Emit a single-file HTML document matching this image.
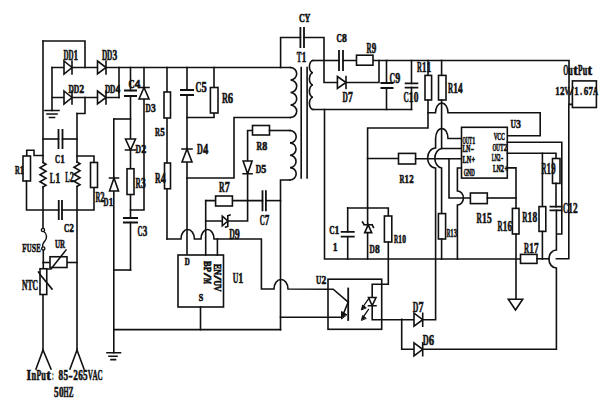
<!DOCTYPE html>
<html><head><meta charset="utf-8"><style>
html,body{margin:0;padding:0;background:#fff;}
svg{display:block;}
</style></head><body>
<svg width="600" height="400" viewBox="0 0 600 400">
<rect width="600" height="400" fill="#fff"/>
<style>text{font-family:"Liberation Serif",serif;font-weight:bold;fill:#111;stroke:#111;stroke-width:0.6px;}</style><g stroke="#111" stroke-linecap="square" stroke-linejoin="miter" fill="none">
<path d="M85,67.5 L85,41 L43,41" stroke-width="1.6" fill="none"/>
<path d="M43,294.5 L43,350" stroke-width="1.6" fill="none"/>
<path d="M36,369 L43,350 L51,369" stroke-width="1.6" fill="none"/>
<path d="M77,113.5 L77,162" stroke-width="1.6" fill="none"/>
<path d="M77,186.5 L77,350" stroke-width="1.6" fill="none"/>
<path d="M70,369 L77,350 L84,369" stroke-width="1.6" fill="none"/>
<path d="M85,97.5 L85,113.5 L77,113.5" stroke-width="1.6" fill="none"/>
<path d="M52,67.5 L290.5,67.5" stroke-width="1.6" fill="none"/>
<path d="M52,97.5 L119,97.5" stroke-width="1.6" fill="none"/>
<path d="M119,67.5 L119,97.5" stroke-width="1.6" fill="none"/>
<path d="M52,67.5 L52,110.5" stroke-width="1.6" fill="none"/>
<path d="M45,110.5 H59 M47,114 H57 M49.5,117.5 H54.5" stroke-width="1.6" fill="none"/>
<path d="M64,61.0 L72,67.5 L64,74.0 Z M72,61.0 V74.0" stroke-width="1.6" fill="#fff"/>
<path d="M97.5,61.0 L106,67.5 L97.5,74.0 Z M106,61.0 V74.0" stroke-width="1.6" fill="#fff"/>
<path d="M64,91.0 L72,97.5 L64,104.0 Z M72,91.0 V104.0" stroke-width="1.6" fill="#fff"/>
<path d="M97.5,91.0 L106,97.5 L97.5,104.0 Z M106,91.0 V104.0" stroke-width="1.6" fill="#fff"/>
<path d="M43,139 L58.5,139" stroke-width="1.6" fill="none"/>
<path d="M62.5,139 L77,139" stroke-width="1.6" fill="none"/>
<path d="M58.5,129 V149 M62.5,129 V149" stroke-width="1.8" fill="none" stroke-linecap="butt"/>
<path d="M43,155.5 L34,155.5 L34,150.2 L26.75,150.2 L26.75,156" stroke-width="1.6" fill="none"/>
<rect x="23" y="156" width="7.50" height="25.00" stroke-width="1.6" fill="#fff"/>
<path d="M26.5,181 L26.5,210 L58.75,210" stroke-width="1.6" fill="none"/>
<path d="M62,210 L94,210 L94,187.5" stroke-width="1.6" fill="none"/>
<path d="M58.75,200 V220 M62,200 V220" stroke-width="1.8" fill="none" stroke-linecap="butt"/>
<path d="M77,156 L94,156 L94,162.5" stroke-width="1.6" fill="none"/>
<rect x="90.5" y="162.5" width="7.00" height="25.00" stroke-width="1.6" fill="#fff"/>
<path d="M43,162.5 L46,164.25 L40,167.75 L46,171.25 L40,174.75 L46,178.25 L40,181.75 L46,185.25 L43,187" stroke-width="1.6" fill="none"/>
<path d="M77,162 L80,163.75 L74,167.25 L80,170.75 L74,174.25 L80,177.75 L74,181.25 L80,184.75 L77,186.5" stroke-width="1.6" fill="none"/>
<path d="M43,41 V162.5 M43,187 V228.3" stroke-width="1.6" fill="none"/>
<path d="M41.4,230 a1.6,1.6 0 1 0 3.2,0 a1.6,1.6 0 1 0 -3.2,0 M43.8,231.5 C47.5,234 47,238.5 44.8,241 C43.2,243 42.2,245 42.8,246.8 M41.7,248.5 a1.6,1.6 0 1 0 3.2,0 a1.6,1.6 0 1 0 -3.2,0" stroke-width="1.4" fill="none"/>
<path d="M43.3,250.2 L43.3,268.75" stroke-width="1.6" fill="none"/>
<path d="M43,262.5 L50,262.5" stroke-width="1.6" fill="none"/>
<path d="M67,262.5 L77,262.5" stroke-width="1.6" fill="none"/>
<rect x="50" y="256.75" width="17.00" height="10.75" stroke-width="1.6" fill="#fff"/>
<path d="M47,269 L51,269 L66,250" stroke-width="1.6" fill="none"/>
<rect x="40" y="268.75" width="6.75" height="25.75" stroke-width="1.6" fill="#fff"/>
<path d="M38.5,272 L40.5,275 L52,289" stroke-width="1.6" fill="none"/>
<path d="M113.8,119 L113.8,352.8" stroke-width="1.6" fill="none"/>
<path d="M113.8,119 L130.5,119" stroke-width="1.6" fill="none"/>
<path d="M107,352.8 H120.5 M109,356.3 H117 M111,359.6 H115.5" stroke-width="1.6" fill="none"/>
<path d="M109.5,191 L114,178 L118.5,191 Z M109.5,178 H118.5" stroke-width="1.6" fill="#fff"/>
<path d="M114,329.6 L280.5,329.6" stroke-width="1.6" fill="none"/>
<path d="M114,270 L130.5,270" stroke-width="1.6" fill="none"/>
<path d="M130.5,67.5 L130.5,90.5" stroke-width="1.6" fill="none"/>
<path d="M124.0,90.5 H137.0 M124.0,96 H137.0" stroke-width="1.8" fill="none" stroke-linecap="butt"/>
<path d="M130.5,96 L130.5,218" stroke-width="1.6" fill="none"/>
<path d="M130.5,222.5 L130.5,270" stroke-width="1.6" fill="none"/>
<path d="M125.5,139 L130.5,150 L135.5,139 Z M125.5,150 H135.5" stroke-width="1.6" fill="#fff"/>
<rect x="127" y="168.75" width="7.00" height="25.75" stroke-width="1.6" fill="#fff"/>
<path d="M123.0,218 H138.0 M123.0,222.5 H138.0" stroke-width="1.8" fill="none" stroke-linecap="butt"/>
<path d="M144,67.5 L144,210 L130.5,210" stroke-width="1.6" fill="none"/>
<path d="M139,99 L144,87.5 L149,99 Z M139,87.5 H149" stroke-width="1.6" fill="#fff"/>
<path d="M167,67.5 L167,239" stroke-width="1.6" fill="none"/>
<rect x="164" y="92" width="6.50" height="26.00" stroke-width="1.6" fill="#fff"/>
<rect x="164.5" y="163" width="6.00" height="25.75" stroke-width="1.6" fill="#fff"/>
<path d="M187,67.5 L187,90" stroke-width="1.6" fill="none"/>
<path d="M187,95 L187,255" stroke-width="1.6" fill="none"/>
<path d="M180,90 H194 M180,95 H194" stroke-width="1.8" fill="none" stroke-linecap="butt"/>
<path d="M182,162 L187,149 L192,162 Z M182,149 H192" stroke-width="1.6" fill="#fff"/>
<path d="M187,117.5 L214,117.5 L214,67.5" stroke-width="1.6" fill="none"/>
<rect x="210.4" y="87.5" width="7.60" height="25.50" stroke-width="1.6" fill="#fff"/>
<path d="M187,178 L234,178 L234,117.5 L290.5,117.5" stroke-width="1.6" fill="none"/>
<path d="M167,239 L181,239 A6.700000000000003,9.5 0 0 1 194.4,239 L201,239 A6.5,9.5 0 0 1 214,239 L261.4,239 L261.4,289 L274,289 A7.0,9.5 0 0 1 288,289 L329,289.2" stroke-width="1.6" fill="none"/>
<rect x="178" y="255" width="45.50" height="52.00" stroke-width="1.6" fill="#fff"/>
<path d="M205.7,200.6 L205.7,255" stroke-width="1.6" fill="none"/>
<path d="M217.4,239 L217.4,255" stroke-width="1.6" fill="none"/>
<path d="M200.5,307 L200.5,329.6" stroke-width="1.6" fill="none"/>
<path d="M205.7,200.6 L262.5,200.6" stroke-width="1.6" fill="none"/>
<path d="M265.9,200.6 L280.5,200.6" stroke-width="1.6" fill="none"/>
<rect x="215.6" y="196" width="16.80" height="10.00" stroke-width="1.6" fill="#fff"/>
<path d="M262.5,190.3 V211.3 M265.9,190.3 V211.3" stroke-width="1.8" fill="none" stroke-linecap="butt"/>
<path d="M205.7,221 L247.6,221 L247.6,130.5 L252.5,130.5" stroke-width="1.6" fill="none"/>
<path d="M222.3,216.2 L227.8,221 L222.3,225.8 Z M227.8,215.8 V226.2 M227.8,215.8 L230,215 M227.8,226.2 L225.6,227.2" stroke-width="1.6" fill="#fff"/>
<path d="M243.1,161 L247.6,173.75 L252.1,161 Z M243.1,173.75 H252.1" stroke-width="1.6" fill="#fff"/>
<rect x="252.5" y="125.5" width="17.00" height="9.50" stroke-width="1.6" fill="#fff"/>
<path d="M269.5,130.5 L290,130.5" stroke-width="1.6" fill="none"/>
<path d="M290.5,67.5 A6.2,6.25 0 0 1 290.5,80.00 A6.2,6.25 0 0 1 290.5,92.50 A6.2,6.25 0 0 1 290.5,105.00 A6.2,6.25 0 0 1 290.5,117.50" stroke-width="1.6" fill="none"/>
<path d="M290,130.5 A6.2,6.1875 0 0 1 290,142.88 A6.2,6.1875 0 0 1 290,155.25 A6.2,6.1875 0 0 1 290,167.62 A6.2,6.1875 0 0 1 290,180.00" stroke-width="1.6" fill="none"/>
<path d="M290,180 L280.5,180 L280.5,329.6" stroke-width="1.6" fill="none"/>
<path d="M301.2,67.5 V178 M307.1,67.5 V178" stroke-width="1.6" fill="none"/>
<path d="M280.6,67.5 L280.6,37.5 L300.4,37.5" stroke-width="1.6" fill="none"/>
<path d="M304,37.5 L324,37.5 L324,82.5 L379,82.5 L379,60.5" stroke-width="1.6" fill="none"/>
<path d="M300.4,27.0 V48.0 M304,27.0 V48.0" stroke-width="1.8" fill="none" stroke-linecap="butt"/>
<path d="M337.4,76.5 L346,82.5 L337.4,88.5 Z M346,76.5 V88.5" stroke-width="1.6" fill="#fff"/>
<path d="M313,60.5 A3.6,6.125 0 0 0 313,72.75 A3.6,6.125 0 0 0 313,85.00 A3.6,6.125 0 0 0 313,97.25 A3.6,6.125 0 0 0 313,109.50" stroke-width="1.6" fill="none"/>
<path d="M313,60.5 L339,60.5" stroke-width="1.6" fill="none"/>
<path d="M343,60.5 L569,60.5 L569,104.4 L572.4,104.4" stroke-width="1.6" fill="none"/>
<path d="M339,50.0 V71.0 M343,50.0 V71.0" stroke-width="1.8" fill="none" stroke-linecap="butt"/>
<rect x="356.5" y="55.2" width="16.50" height="10.00" stroke-width="1.6" fill="#fff"/>
<path d="M313,109.5 L411.5,109.5" stroke-width="1.6" fill="none"/>
<path d="M324.5,109.5 L324.5,259 L520.5,259" stroke-width="1.6" fill="none"/>
<path d="M386.5,60.5 L386.5,83" stroke-width="1.6" fill="none"/>
<path d="M386.5,88 L386.5,109.5" stroke-width="1.6" fill="none"/>
<path d="M380.5,83 H393.5 M380.5,88 H393.5" stroke-width="1.8" fill="none" stroke-linecap="butt"/>
<path d="M411.5,60.5 L411.5,83.5" stroke-width="1.6" fill="none"/>
<path d="M411.5,87.4 L411.5,109.5" stroke-width="1.6" fill="none"/>
<path d="M404.7,83.4 H418.3 M404.7,87.6 H418.3" stroke-width="1.8" fill="none" stroke-linecap="butt"/>
<path d="M428,60.5 L428,75.4" stroke-width="1.6" fill="none"/>
<rect x="425" y="75.4" width="6.60" height="24.60" stroke-width="1.6" fill="#fff"/>
<path d="M428,100 L428,128 L367.6,128 L367.6,259" stroke-width="1.6" fill="none"/>
<path d="M441.6,60.5 L441.6,75.4" stroke-width="1.6" fill="none"/>
<rect x="438.5" y="75.4" width="7.50" height="24.60" stroke-width="1.6" fill="#fff"/>
<path d="M441.6,100 L441.6,148.5 L461.5,148.5" stroke-width="1.6" fill="none"/>
<path d="M428,112.8 L435.5,112.8 A6.25,9.799999999999997 0 0 1 448,112.8 L540.2,112.8 L540.2,135.8 L507.3,135.8" stroke-width="1.6" fill="none"/>
<path d="M461.5,138.5 L448,138.5 A6.2,10 0 0 0 435.6,138.5 L435.6,148 A8,10 0 0 0 435.6,168 L435.6,319.7 L422.7,319.7" stroke-width="1.6" fill="none"/>
<path d="M441.6,148.5 A7.5,9.8 0 0 0 441.6,168 L441.6,213.6" stroke-width="1.6" fill="none"/>
<rect x="438.4" y="213.6" width="7.20" height="25.40" stroke-width="1.6" fill="#fff"/>
<path d="M441.6,239 L441.6,259" stroke-width="1.6" fill="none"/>
<path d="M367.6,158.5 L398.5,158.5" stroke-width="1.6" fill="none"/>
<rect x="398.5" y="153.4" width="17.10" height="10.60" stroke-width="1.6" fill="#fff"/>
<path d="M415.6,158.7 L461.5,158.7" stroke-width="1.6" fill="none"/>
<path d="M449,158.7 L449,198 L470.4,198" stroke-width="1.6" fill="none"/>
<rect x="470.4" y="193" width="16.90" height="10.60" stroke-width="1.6" fill="#fff"/>
<path d="M487.3,198 L516,198" stroke-width="1.6" fill="none"/>
<path d="M461.5,168 L457.4,168 L457.4,191 A6,7 0 0 1 457.4,205 L457.4,259" stroke-width="1.6" fill="none"/>
<rect x="461.5" y="127.3" width="45.80" height="50.80" stroke-width="1.6" fill="#fff"/>
<path d="M507.3,167.9 L516,167.9 L516,208.4" stroke-width="1.6" fill="none"/>
<rect x="512.4" y="208.4" width="6.60" height="25.60" stroke-width="1.6" fill="#fff"/>
<path d="M516,234 L516,299.3" stroke-width="1.6" fill="none"/>
<path d="M508.3,299.3 H522.7 L515.5,310 Z" stroke-width="1.6" fill="none"/>
<path d="M507.3,153.3 L556,153.3 L556,158.5" stroke-width="1.6" fill="none"/>
<rect x="552.5" y="158.5" width="7.50" height="24.90" stroke-width="1.6" fill="#fff"/>
<path d="M556,183.4 L556,206.6" stroke-width="1.6" fill="none"/>
<path d="M549.5,206.6 H562.5 M549.5,210.4 H562.5" stroke-width="1.8" fill="none" stroke-linecap="butt"/>
<path d="M542.4,153.3 L542.4,206.6" stroke-width="1.6" fill="none"/>
<rect x="539" y="206.6" width="6.80" height="24.80" stroke-width="1.6" fill="#fff"/>
<path d="M542.4,231.4 L542.4,259" stroke-width="1.6" fill="none"/>
<path d="M507.3,142.3 L561.8,142.3 L561.8,234 L556.4,234 L556.4,210.4 M556.4,234 L556.4,250 A7.5,9 0 0 0 556.4,268 L556.4,349.3 L401.7,349.3 L401.7,319.4" stroke-width="1.6" fill="none"/>
<rect x="520.5" y="254.4" width="16.50" height="9.00" stroke-width="1.6" fill="#fff"/>
<path d="M537,258.8 L549,258.8" stroke-width="1.6" fill="none"/>
<path d="M556.4,258.8 L568.8,258.8 L568.8,104.4" stroke-width="1.6" fill="none"/>
<rect x="572.4" y="80.9" width="24.00" height="26.60" stroke-width="1.6" fill="#fff"/>
<path d="M347.7,208 L388.3,208 L388.3,216" stroke-width="1.6" fill="none"/>
<rect x="384.4" y="216" width="7.40" height="26.00" stroke-width="1.6" fill="#fff"/>
<path d="M347.7,208 L347.7,231.8" stroke-width="1.6" fill="none"/>
<path d="M347.7,236.7 L347.7,259" stroke-width="1.6" fill="none"/>
<path d="M340.7,231.8 H354.7 M340.7,236.7 H354.7" stroke-width="1.8" fill="none" stroke-linecap="butt"/>
<path d="M364.7,232.6 L368.2,224.8 L371.7,232.6 Z M364.2,224.8 H372.2 M364.2,224.8 L362.5,222 M372.2,224.8 L373.5,227.5" stroke-width="1.6" fill="#fff"/>
<rect x="328" y="279.2" width="53.70" height="50.10" stroke-width="1.6" fill="#fff"/>
<path d="M329,289.2 L333.2,289.2 L348.2,302" stroke-width="1.6" fill="none"/>
<path d="M348.2,288.5 V320" stroke-width="1.8" fill="none"/>
<path d="M348.2,302 L342.5,316" stroke-width="1.6" fill="none"/>
<path d="M341.5,318.5 L341.5,311.5 L346.5,314.5 Z" stroke-width="1" fill="#111"/>
<path d="M280.5,317.3 L341,317.3" stroke-width="1.6" fill="none"/>
<path d="M388.3,242 L388.3,284.3 L372.2,284.3 L372.2,319.7 L414,319.7" stroke-width="1.6" fill="none"/>
<path d="M368.5,297.5 H376 L372.2,305.7 Z M368.5,305.7 H376" stroke-width="1.6" fill="#fff"/>
<path d="M368.5,299 L362.5,307.5 M368.5,309.5 L362.5,318" stroke-width="1.3" fill="none"/>
<path d="M361.5,309.5 l1.2,-4.5 l3.2,2.6 Z M361.5,320 l1.2,-4.5 l3.2,2.6 Z" stroke-width="1" fill="#111"/>
<path d="M414,313.2 L422.7,319.7 L414,326.2 Z M422.7,313.2 V326.2" stroke-width="1.6" fill="#fff"/>
<path d="M414,342.8 L422.7,349.3 L414,355.8 Z M422.7,342.8 V355.8" stroke-width="1.6" fill="#fff"/>
<text x="299.03" y="21.80" font-size="12.67" textLength="5.86" lengthAdjust="spacingAndGlyphs">C</text><text x="304.61" y="21.80" font-size="12.67" textLength="5.86" lengthAdjust="spacingAndGlyphs">Y</text>
<text x="336.57" y="42.20" font-size="11.76" textLength="5.36" lengthAdjust="spacingAndGlyphs">C</text><text x="341.94" y="42.20" font-size="11.76" textLength="4.83" lengthAdjust="spacingAndGlyphs">8</text>
<text x="366.59" y="52.50" font-size="13.74" textLength="5.03" lengthAdjust="spacingAndGlyphs">R</text><text x="371.63" y="52.50" font-size="13.74" textLength="4.52" lengthAdjust="spacingAndGlyphs">9</text>
<text x="296.78" y="62.20" font-size="14.66" textLength="4.64" lengthAdjust="spacingAndGlyphs">T</text><text x="301.63" y="62.20" font-size="14.66" textLength="4.52" lengthAdjust="spacingAndGlyphs">1</text>
<text x="63.59" y="60.00" font-size="13.74" textLength="5.10" lengthAdjust="spacingAndGlyphs">D</text><text x="68.45" y="60.00" font-size="13.74" textLength="5.10" lengthAdjust="spacingAndGlyphs">D</text><text x="73.56" y="60.00" font-size="13.74" textLength="4.59" lengthAdjust="spacingAndGlyphs">1</text>
<text x="102.07" y="60.00" font-size="13.74" textLength="5.29" lengthAdjust="spacingAndGlyphs">D</text><text x="107.11" y="60.00" font-size="13.74" textLength="5.29" lengthAdjust="spacingAndGlyphs">D</text><text x="112.41" y="60.00" font-size="13.74" textLength="4.76" lengthAdjust="spacingAndGlyphs">3</text>
<text x="68.56" y="92.50" font-size="12.98" textLength="5.47" lengthAdjust="spacingAndGlyphs">D</text><text x="73.77" y="92.50" font-size="12.98" textLength="5.47" lengthAdjust="spacingAndGlyphs">D</text><text x="79.25" y="92.50" font-size="12.98" textLength="4.92" lengthAdjust="spacingAndGlyphs">2</text>
<text x="105.07" y="92.50" font-size="12.98" textLength="5.29" lengthAdjust="spacingAndGlyphs">D</text><text x="110.11" y="92.50" font-size="12.98" textLength="5.29" lengthAdjust="spacingAndGlyphs">D</text><text x="115.41" y="92.50" font-size="12.98" textLength="4.76" lengthAdjust="spacingAndGlyphs">4</text>
<text x="128.50" y="88.00" font-size="12.98" textLength="6.14" lengthAdjust="spacingAndGlyphs">C</text><text x="134.66" y="88.00" font-size="12.98" textLength="5.53" lengthAdjust="spacingAndGlyphs">4</text>
<text x="145.57" y="112.00" font-size="12.98" textLength="5.31" lengthAdjust="spacingAndGlyphs">D</text><text x="150.89" y="112.00" font-size="12.98" textLength="4.78" lengthAdjust="spacingAndGlyphs">3</text>
<text x="195.53" y="92.00" font-size="13.74" textLength="5.86" lengthAdjust="spacingAndGlyphs">C</text><text x="201.40" y="92.00" font-size="13.74" textLength="5.28" lengthAdjust="spacingAndGlyphs">5</text>
<text x="221.92" y="102.50" font-size="15.27" textLength="5.92" lengthAdjust="spacingAndGlyphs">R</text><text x="227.86" y="102.50" font-size="15.27" textLength="5.33" lengthAdjust="spacingAndGlyphs">6</text>
<text x="342.57" y="102.00" font-size="13.74" textLength="5.36" lengthAdjust="spacingAndGlyphs">D</text><text x="347.94" y="102.00" font-size="13.74" textLength="4.83" lengthAdjust="spacingAndGlyphs">7</text>
<text x="389.55" y="82.50" font-size="13.74" textLength="5.59" lengthAdjust="spacingAndGlyphs">C</text><text x="395.15" y="82.50" font-size="13.74" textLength="5.03" lengthAdjust="spacingAndGlyphs">9</text>
<text x="403.57" y="102.40" font-size="15.11" textLength="5.25" lengthAdjust="spacingAndGlyphs">C</text><text x="408.84" y="102.40" font-size="15.11" textLength="4.72" lengthAdjust="spacingAndGlyphs">1</text><text x="413.84" y="102.40" font-size="15.11" textLength="4.72" lengthAdjust="spacingAndGlyphs">0</text>
<text x="417.10" y="72.40" font-size="15.11" textLength="4.92" lengthAdjust="spacingAndGlyphs">R</text><text x="422.04" y="72.40" font-size="15.11" textLength="4.43" lengthAdjust="spacingAndGlyphs">1</text><text x="426.72" y="72.40" font-size="15.11" textLength="4.43" lengthAdjust="spacingAndGlyphs">1</text>
<text x="447.98" y="92.50" font-size="13.74" textLength="5.14" lengthAdjust="spacingAndGlyphs">R</text><text x="453.14" y="92.50" font-size="13.74" textLength="4.63" lengthAdjust="spacingAndGlyphs">1</text><text x="458.03" y="92.50" font-size="13.74" textLength="4.63" lengthAdjust="spacingAndGlyphs">4</text>
<text x="563.29" y="74.80" font-size="13.59" textLength="5.05" lengthAdjust="spacingAndGlyphs">O</text><text x="568.36" y="74.80" font-size="13.59" textLength="4.55" lengthAdjust="spacingAndGlyphs">u</text><text x="573.17" y="74.80" font-size="13.59" textLength="4.55" lengthAdjust="spacingAndGlyphs">t</text><text x="577.98" y="74.80" font-size="13.59" textLength="4.55" lengthAdjust="spacingAndGlyphs">P</text><text x="582.80" y="74.80" font-size="13.59" textLength="4.55" lengthAdjust="spacingAndGlyphs">u</text><text x="587.61" y="74.80" font-size="13.59" textLength="4.55" lengthAdjust="spacingAndGlyphs">t</text>
<text x="555.15" y="95.30" font-size="13.44" textLength="4.50" lengthAdjust="spacingAndGlyphs">1</text><text x="559.91" y="95.30" font-size="13.44" textLength="4.50" lengthAdjust="spacingAndGlyphs">2</text><text x="564.42" y="95.30" font-size="13.44" textLength="5.00" lengthAdjust="spacingAndGlyphs">V</text><text x="569.81" y="95.30" font-size="13.44" textLength="3.75" lengthAdjust="spacingAndGlyphs">/</text><text x="574.20" y="95.30" font-size="13.44" textLength="4.50" lengthAdjust="spacingAndGlyphs">1</text><text x="580.35" y="95.30" font-size="13.44" textLength="1.73" lengthAdjust="spacingAndGlyphs">.</text><text x="583.73" y="95.30" font-size="13.44" textLength="4.50" lengthAdjust="spacingAndGlyphs">6</text><text x="588.49" y="95.30" font-size="13.44" textLength="4.50" lengthAdjust="spacingAndGlyphs">7</text><text x="593.00" y="95.30" font-size="13.44" textLength="5.00" lengthAdjust="spacingAndGlyphs">A</text>
<text x="510.56" y="128.00" font-size="12.98" textLength="5.47" lengthAdjust="spacingAndGlyphs">U</text><text x="516.04" y="128.00" font-size="12.98" textLength="4.93" lengthAdjust="spacingAndGlyphs">3</text>
<text x="155.09" y="135.50" font-size="12.21" textLength="5.03" lengthAdjust="spacingAndGlyphs">R</text><text x="160.13" y="135.50" font-size="12.21" textLength="4.52" lengthAdjust="spacingAndGlyphs">5</text>
<text x="135.55" y="152.50" font-size="12.98" textLength="5.59" lengthAdjust="spacingAndGlyphs">D</text><text x="141.15" y="152.50" font-size="12.98" textLength="5.03" lengthAdjust="spacingAndGlyphs">2</text>
<text x="197.03" y="153.50" font-size="14.50" textLength="5.86" lengthAdjust="spacingAndGlyphs">D</text><text x="202.90" y="153.50" font-size="14.50" textLength="5.28" lengthAdjust="spacingAndGlyphs">4</text>
<text x="256.55" y="149.50" font-size="12.67" textLength="5.59" lengthAdjust="spacingAndGlyphs">R</text><text x="262.15" y="149.50" font-size="12.67" textLength="5.03" lengthAdjust="spacingAndGlyphs">8</text>
<text x="255.75" y="172.50" font-size="13.44" textLength="5.59" lengthAdjust="spacingAndGlyphs">D</text><text x="261.35" y="172.50" font-size="13.44" textLength="5.03" lengthAdjust="spacingAndGlyphs">5</text>
<text x="55.09" y="162.50" font-size="12.98" textLength="5.03" lengthAdjust="spacingAndGlyphs">C</text><text x="60.13" y="162.50" font-size="12.98" textLength="4.52" lengthAdjust="spacingAndGlyphs">1</text>
<text x="15.12" y="174.00" font-size="12.21" textLength="4.75" lengthAdjust="spacingAndGlyphs">R</text><text x="19.87" y="174.00" font-size="12.21" textLength="4.27" lengthAdjust="spacingAndGlyphs">1</text>
<text x="49.76" y="182.50" font-size="15.27" textLength="5.16" lengthAdjust="spacingAndGlyphs">L</text><text x="55.15" y="182.50" font-size="15.27" textLength="5.03" lengthAdjust="spacingAndGlyphs">1</text>
<text x="65.30" y="182.00" font-size="15.27" textLength="4.39" lengthAdjust="spacingAndGlyphs">L</text><text x="69.87" y="182.00" font-size="15.27" textLength="4.27" lengthAdjust="spacingAndGlyphs">2</text>
<text x="135.57" y="188.00" font-size="14.20" textLength="5.31" lengthAdjust="spacingAndGlyphs">R</text><text x="140.89" y="188.00" font-size="14.20" textLength="4.78" lengthAdjust="spacingAndGlyphs">3</text>
<text x="155.05" y="183.00" font-size="14.20" textLength="5.59" lengthAdjust="spacingAndGlyphs">R</text><text x="160.65" y="183.00" font-size="14.20" textLength="5.03" lengthAdjust="spacingAndGlyphs">4</text>
<text x="399.60" y="182.50" font-size="11.45" textLength="4.92" lengthAdjust="spacingAndGlyphs">R</text><text x="404.54" y="182.50" font-size="11.45" textLength="4.43" lengthAdjust="spacingAndGlyphs">1</text><text x="409.22" y="182.50" font-size="11.45" textLength="4.43" lengthAdjust="spacingAndGlyphs">2</text>
<text x="541.60" y="173.50" font-size="16.03" textLength="4.92" lengthAdjust="spacingAndGlyphs">R</text><text x="546.54" y="173.50" font-size="16.03" textLength="4.43" lengthAdjust="spacingAndGlyphs">1</text><text x="551.22" y="173.50" font-size="16.03" textLength="4.43" lengthAdjust="spacingAndGlyphs">9</text>
<text x="95.51" y="201.50" font-size="13.74" textLength="4.80" lengthAdjust="spacingAndGlyphs">R</text><text x="100.33" y="201.50" font-size="13.74" textLength="4.32" lengthAdjust="spacingAndGlyphs">2</text>
<text x="103.59" y="205.50" font-size="12.98" textLength="5.03" lengthAdjust="spacingAndGlyphs">D</text><text x="108.63" y="205.50" font-size="12.98" textLength="4.52" lengthAdjust="spacingAndGlyphs">1</text>
<text x="219.05" y="191.50" font-size="13.74" textLength="5.59" lengthAdjust="spacingAndGlyphs">R</text><text x="224.65" y="191.50" font-size="13.74" textLength="5.03" lengthAdjust="spacingAndGlyphs">7</text>
<text x="259.79" y="225.00" font-size="13.74" textLength="5.03" lengthAdjust="spacingAndGlyphs">C</text><text x="264.83" y="225.00" font-size="13.74" textLength="4.52" lengthAdjust="spacingAndGlyphs">7</text>
<text x="229.15" y="239.00" font-size="14.66" textLength="5.59" lengthAdjust="spacingAndGlyphs">D</text><text x="234.75" y="239.00" font-size="14.66" textLength="5.03" lengthAdjust="spacingAndGlyphs">9</text>
<text x="64.08" y="232.00" font-size="12.67" textLength="5.14" lengthAdjust="spacingAndGlyphs">C</text><text x="69.23" y="232.00" font-size="12.67" textLength="4.62" lengthAdjust="spacingAndGlyphs">2</text>
<text x="137.59" y="235.50" font-size="14.20" textLength="5.03" lengthAdjust="spacingAndGlyphs">C</text><text x="142.63" y="235.50" font-size="14.20" textLength="4.52" lengthAdjust="spacingAndGlyphs">3</text>
<text x="329.16" y="234.40" font-size="13.44" textLength="5.42" lengthAdjust="spacingAndGlyphs">C</text><text x="334.59" y="234.40" font-size="13.44" textLength="4.88" lengthAdjust="spacingAndGlyphs">1</text>
<text x="332.83" y="251.00" font-size="13.28" textLength="4.83" lengthAdjust="spacingAndGlyphs">1</text>
<text x="369.57" y="252.80" font-size="13.44" textLength="5.31" lengthAdjust="spacingAndGlyphs">D</text><text x="374.89" y="252.80" font-size="13.44" textLength="4.78" lengthAdjust="spacingAndGlyphs">8</text>
<text x="394.06" y="242.60" font-size="11.60" textLength="4.16" lengthAdjust="spacingAndGlyphs">R</text><text x="398.23" y="242.60" font-size="11.60" textLength="3.74" lengthAdjust="spacingAndGlyphs">1</text><text x="402.19" y="242.60" font-size="11.60" textLength="3.74" lengthAdjust="spacingAndGlyphs">0</text>
<text x="446.70" y="237.00" font-size="12.21" textLength="3.65" lengthAdjust="spacingAndGlyphs">R</text><text x="450.36" y="237.00" font-size="12.21" textLength="3.28" lengthAdjust="spacingAndGlyphs">1</text><text x="453.83" y="237.00" font-size="12.21" textLength="3.28" lengthAdjust="spacingAndGlyphs">3</text>
<text x="476.57" y="223.00" font-size="14.35" textLength="5.32" lengthAdjust="spacingAndGlyphs">R</text><text x="481.90" y="223.00" font-size="14.35" textLength="4.79" lengthAdjust="spacingAndGlyphs">1</text><text x="486.97" y="223.00" font-size="14.35" textLength="4.79" lengthAdjust="spacingAndGlyphs">5</text>
<text x="497.59" y="231.00" font-size="15.27" textLength="5.10" lengthAdjust="spacingAndGlyphs">R</text><text x="502.70" y="231.00" font-size="15.27" textLength="4.59" lengthAdjust="spacingAndGlyphs">1</text><text x="507.56" y="231.00" font-size="15.27" textLength="4.59" lengthAdjust="spacingAndGlyphs">6</text>
<text x="522.18" y="222.00" font-size="14.66" textLength="5.25" lengthAdjust="spacingAndGlyphs">R</text><text x="527.44" y="222.00" font-size="14.66" textLength="4.72" lengthAdjust="spacingAndGlyphs">1</text><text x="532.44" y="222.00" font-size="14.66" textLength="4.72" lengthAdjust="spacingAndGlyphs">8</text>
<text x="562.98" y="213.00" font-size="14.66" textLength="5.14" lengthAdjust="spacingAndGlyphs">C</text><text x="568.14" y="213.00" font-size="14.66" textLength="4.63" lengthAdjust="spacingAndGlyphs">1</text><text x="573.03" y="213.00" font-size="14.66" textLength="4.63" lengthAdjust="spacingAndGlyphs">2</text>
<text x="523.98" y="253.00" font-size="15.27" textLength="5.14" lengthAdjust="spacingAndGlyphs">R</text><text x="529.14" y="253.00" font-size="15.27" textLength="4.63" lengthAdjust="spacingAndGlyphs">1</text><text x="534.03" y="253.00" font-size="15.27" textLength="4.63" lengthAdjust="spacingAndGlyphs">7</text>
<text x="22.35" y="252.00" font-size="12.52" textLength="4.38" lengthAdjust="spacingAndGlyphs">F</text><text x="26.74" y="252.00" font-size="12.52" textLength="4.87" lengthAdjust="spacingAndGlyphs">U</text><text x="31.63" y="252.00" font-size="12.52" textLength="4.38" lengthAdjust="spacingAndGlyphs">S</text><text x="36.21" y="252.00" font-size="12.52" textLength="4.50" lengthAdjust="spacingAndGlyphs">E</text>
<text x="55.09" y="248.00" font-size="12.21" textLength="5.03" lengthAdjust="spacingAndGlyphs">U</text><text x="59.88" y="248.00" font-size="12.21" textLength="5.03" lengthAdjust="spacingAndGlyphs">R</text>
<text x="22.06" y="290.00" font-size="13.74" textLength="5.47" lengthAdjust="spacingAndGlyphs">N</text><text x="27.47" y="290.00" font-size="13.74" textLength="5.05" lengthAdjust="spacingAndGlyphs">T</text><text x="32.47" y="290.00" font-size="13.74" textLength="5.47" lengthAdjust="spacingAndGlyphs">C</text>
<text x="316.07" y="283.60" font-size="12.52" textLength="5.31" lengthAdjust="spacingAndGlyphs">U</text><text x="321.39" y="283.60" font-size="12.52" textLength="4.78" lengthAdjust="spacingAndGlyphs">2</text>
<text x="232.75" y="283.20" font-size="15.27" textLength="5.59" lengthAdjust="spacingAndGlyphs">U</text><text x="238.35" y="283.20" font-size="15.27" textLength="5.03" lengthAdjust="spacingAndGlyphs">1</text>
<text x="184.79" y="265.20" font-size="9.47" textLength="5.01" lengthAdjust="spacingAndGlyphs">D</text>
<text x="198.84" y="301.00" font-size="9.92" textLength="4.51" lengthAdjust="spacingAndGlyphs">S</text>
<g transform="translate(204.2,261.2) rotate(90)"><text x="-0.26" y="0.00" font-size="10.38" textLength="5.63" lengthAdjust="spacingAndGlyphs">B</text><text x="5.61" y="0.00" font-size="10.38" textLength="5.48" lengthAdjust="spacingAndGlyphs">P</text><text x="11.87" y="0.00" font-size="10.38" textLength="4.57" lengthAdjust="spacingAndGlyphs">/</text><text x="16.90" y="0.00" font-size="10.38" textLength="6.09" lengthAdjust="spacingAndGlyphs">M</text></g>
<g transform="translate(214.3,264.2) rotate(90)"><text x="-0.25" y="0.00" font-size="9.77" textLength="5.37" lengthAdjust="spacingAndGlyphs">E</text><text x="5.06" y="0.00" font-size="9.77" textLength="5.81" lengthAdjust="spacingAndGlyphs">N</text><text x="11.32" y="0.00" font-size="9.77" textLength="4.36" lengthAdjust="spacingAndGlyphs">/</text><text x="16.13" y="0.00" font-size="9.77" textLength="5.81" lengthAdjust="spacingAndGlyphs">U</text><text x="21.66" y="0.00" font-size="9.77" textLength="5.81" lengthAdjust="spacingAndGlyphs">V</text></g>
<text x="412.85" y="311.70" font-size="15.27" textLength="5.59" lengthAdjust="spacingAndGlyphs">D</text><text x="418.45" y="311.70" font-size="15.27" textLength="5.03" lengthAdjust="spacingAndGlyphs">7</text>
<text x="422.82" y="345.00" font-size="15.27" textLength="5.98" lengthAdjust="spacingAndGlyphs">D</text><text x="428.81" y="345.00" font-size="15.27" textLength="5.38" lengthAdjust="spacingAndGlyphs">6</text>
<text x="26.59" y="379.70" font-size="15.19" textLength="4.64" lengthAdjust="spacingAndGlyphs">I</text><text x="31.50" y="379.70" font-size="15.19" textLength="4.64" lengthAdjust="spacingAndGlyphs">n</text><text x="36.41" y="379.70" font-size="15.19" textLength="4.64" lengthAdjust="spacingAndGlyphs">P</text><text x="41.31" y="379.70" font-size="15.19" textLength="4.64" lengthAdjust="spacingAndGlyphs">u</text><text x="46.22" y="379.70" font-size="15.19" textLength="4.64" lengthAdjust="spacingAndGlyphs">t</text>
<text x="52.29" y="379.70" font-size="15.19" textLength="1.21" lengthAdjust="spacingAndGlyphs">:</text>
<text x="58.54" y="379.70" font-size="15.19" textLength="4.63" lengthAdjust="spacingAndGlyphs">8</text><text x="63.44" y="379.70" font-size="15.19" textLength="4.63" lengthAdjust="spacingAndGlyphs">5</text><text x="68.60" y="379.70" font-size="15.19" textLength="4.11" lengthAdjust="spacingAndGlyphs">-</text><text x="73.24" y="379.70" font-size="15.19" textLength="4.63" lengthAdjust="spacingAndGlyphs">2</text><text x="78.14" y="379.70" font-size="15.19" textLength="4.63" lengthAdjust="spacingAndGlyphs">6</text><text x="83.03" y="379.70" font-size="15.19" textLength="4.63" lengthAdjust="spacingAndGlyphs">5</text><text x="87.68" y="379.70" font-size="15.19" textLength="5.14" lengthAdjust="spacingAndGlyphs">V</text><text x="92.57" y="379.70" font-size="15.19" textLength="5.14" lengthAdjust="spacingAndGlyphs">A</text><text x="97.47" y="379.70" font-size="15.19" textLength="5.14" lengthAdjust="spacingAndGlyphs">C</text>
<text x="54.04" y="396.70" font-size="14.81" textLength="4.63" lengthAdjust="spacingAndGlyphs">5</text><text x="58.94" y="396.70" font-size="14.81" textLength="4.63" lengthAdjust="spacingAndGlyphs">0</text><text x="63.58" y="396.70" font-size="14.81" textLength="5.14" lengthAdjust="spacingAndGlyphs">H</text><text x="68.67" y="396.70" font-size="14.81" textLength="4.75" lengthAdjust="spacingAndGlyphs">Z</text>
<text x="462.53" y="143.50" font-size="11.15" textLength="3.38" lengthAdjust="spacingAndGlyphs">O</text><text x="465.75" y="143.50" font-size="11.15" textLength="3.38" lengthAdjust="spacingAndGlyphs">U</text><text x="469.10" y="143.50" font-size="11.15" textLength="3.13" lengthAdjust="spacingAndGlyphs">T</text><text x="472.36" y="143.50" font-size="11.15" textLength="3.04" lengthAdjust="spacingAndGlyphs">1</text>
<text x="462.62" y="151.70" font-size="9.92" textLength="3.77" lengthAdjust="spacingAndGlyphs">L</text><text x="466.36" y="151.70" font-size="9.92" textLength="4.08" lengthAdjust="spacingAndGlyphs">N</text><text x="470.66" y="151.70" font-size="9.92" textLength="3.27" lengthAdjust="spacingAndGlyphs">-</text>
<text x="462.61" y="162.50" font-size="10.38" textLength="4.11" lengthAdjust="spacingAndGlyphs">L</text><text x="466.68" y="162.50" font-size="10.38" textLength="4.45" lengthAdjust="spacingAndGlyphs">N</text><text x="471.38" y="162.50" font-size="10.38" textLength="3.51" lengthAdjust="spacingAndGlyphs">+</text>
<text x="463.69" y="176.00" font-size="11.15" textLength="3.83" lengthAdjust="spacingAndGlyphs">G</text><text x="467.34" y="176.00" font-size="11.15" textLength="3.83" lengthAdjust="spacingAndGlyphs">N</text><text x="470.98" y="176.00" font-size="11.15" textLength="3.83" lengthAdjust="spacingAndGlyphs">D</text>
<text x="493.69" y="139.50" font-size="11.15" textLength="3.83" lengthAdjust="spacingAndGlyphs">V</text><text x="497.34" y="139.50" font-size="11.15" textLength="3.83" lengthAdjust="spacingAndGlyphs">C</text><text x="500.98" y="139.50" font-size="11.15" textLength="3.83" lengthAdjust="spacingAndGlyphs">C</text>
<text x="492.39" y="150.90" font-size="11.30" textLength="3.87" lengthAdjust="spacingAndGlyphs">O</text><text x="496.07" y="150.90" font-size="11.30" textLength="3.87" lengthAdjust="spacingAndGlyphs">U</text><text x="499.91" y="150.90" font-size="11.30" textLength="3.58" lengthAdjust="spacingAndGlyphs">T</text><text x="503.64" y="150.90" font-size="11.30" textLength="3.48" lengthAdjust="spacingAndGlyphs">2</text>
<text x="491.87" y="160.60" font-size="11.15" textLength="2.85" lengthAdjust="spacingAndGlyphs">L</text><text x="494.69" y="160.60" font-size="11.15" textLength="3.09" lengthAdjust="spacingAndGlyphs">N</text><text x="497.78" y="160.60" font-size="11.15" textLength="2.78" lengthAdjust="spacingAndGlyphs">2</text><text x="500.87" y="160.60" font-size="11.15" textLength="2.47" lengthAdjust="spacingAndGlyphs">-</text>
<text x="493.03" y="171.60" font-size="10.53" textLength="3.65" lengthAdjust="spacingAndGlyphs">L</text><text x="496.64" y="171.60" font-size="10.53" textLength="3.95" lengthAdjust="spacingAndGlyphs">N</text><text x="500.60" y="171.60" font-size="10.53" textLength="3.56" lengthAdjust="spacingAndGlyphs">2</text><text x="504.59" y="171.60" font-size="10.53" textLength="3.12" lengthAdjust="spacingAndGlyphs">+</text>
<path d="M41,250 m0,0" stroke-width="1" fill="none"/>
</g>
</svg>
</body></html>
